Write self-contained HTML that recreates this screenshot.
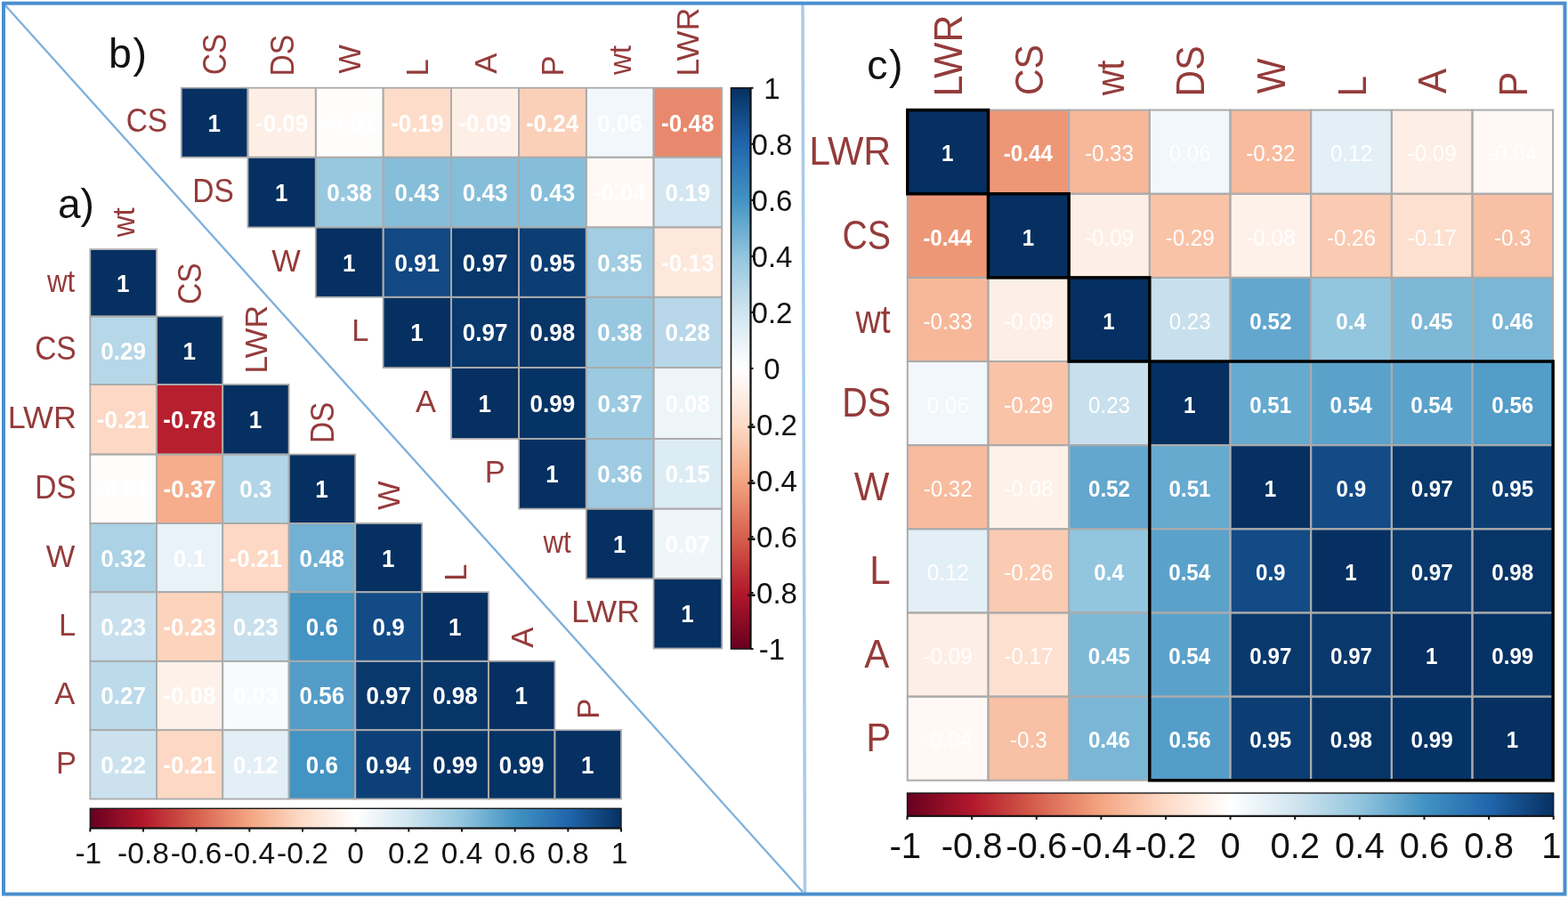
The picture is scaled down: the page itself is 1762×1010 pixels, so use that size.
<!DOCTYPE html>
<html><head><meta charset="utf-8"><title>Correlation plots</title>
<style>
html,body{margin:0;padding:0;background:#fff;}
body{width:1762px;height:1010px;overflow:hidden;}
svg{display:block;font-family:'Liberation Sans', Arial, sans-serif;}
</style></head><body>
<svg width="1762" height="1010" viewBox="0 0 1762 1010">
<defs>
<linearGradient id="gv" x1="0" y1="1" x2="0" y2="0">
<stop offset="0.00" stop-color="#67001F"/>
<stop offset="0.10" stop-color="#B2182B"/>
<stop offset="0.20" stop-color="#D6604D"/>
<stop offset="0.30" stop-color="#F4A582"/>
<stop offset="0.40" stop-color="#FDDBC7"/>
<stop offset="0.50" stop-color="#FFFFFF"/>
<stop offset="0.60" stop-color="#D1E5F0"/>
<stop offset="0.70" stop-color="#92C5DE"/>
<stop offset="0.80" stop-color="#4393C3"/>
<stop offset="0.90" stop-color="#2166AC"/>
<stop offset="1.00" stop-color="#053061"/>
</linearGradient>
<linearGradient id="gh" x1="0" y1="0" x2="1" y2="0">
<stop offset="0.00" stop-color="#67001F"/>
<stop offset="0.10" stop-color="#B2182B"/>
<stop offset="0.20" stop-color="#D6604D"/>
<stop offset="0.30" stop-color="#F4A582"/>
<stop offset="0.40" stop-color="#FDDBC7"/>
<stop offset="0.50" stop-color="#FFFFFF"/>
<stop offset="0.60" stop-color="#D1E5F0"/>
<stop offset="0.70" stop-color="#92C5DE"/>
<stop offset="0.80" stop-color="#4393C3"/>
<stop offset="0.90" stop-color="#2166AC"/>
<stop offset="1.00" stop-color="#053061"/>
</linearGradient>
</defs>
<rect x="0" y="0" width="1762" height="1010" fill="#fff"/>
<rect x="203.80" y="98.70" width="74.70" height="78.00" fill="#053061"/>
<rect x="278.50" y="98.70" width="76.30" height="78.00" fill="#feefe6"/>
<rect x="354.80" y="98.70" width="75.80" height="78.00" fill="#fffdfc"/>
<rect x="430.60" y="98.70" width="76.50" height="78.00" fill="#fdddca"/>
<rect x="507.10" y="98.70" width="76.00" height="78.00" fill="#feefe6"/>
<rect x="583.10" y="98.70" width="75.70" height="78.00" fill="#fbd0b9"/>
<rect x="658.80" y="98.70" width="75.70" height="78.00" fill="#f1f7fa"/>
<rect x="734.50" y="98.70" width="76.70" height="78.00" fill="#e8896d"/>
<rect x="278.50" y="176.70" width="76.30" height="78.70" fill="#053061"/>
<rect x="354.80" y="176.70" width="75.80" height="78.70" fill="#98c8e0"/>
<rect x="430.60" y="176.70" width="76.50" height="78.70" fill="#86beda"/>
<rect x="507.10" y="176.70" width="76.00" height="78.70" fill="#86beda"/>
<rect x="583.10" y="176.70" width="75.70" height="78.70" fill="#86beda"/>
<rect x="658.80" y="176.70" width="75.70" height="78.70" fill="#fff8f4"/>
<rect x="734.50" y="176.70" width="76.70" height="78.70" fill="#d3e6f1"/>
<rect x="354.80" y="255.40" width="75.80" height="78.40" fill="#053061"/>
<rect x="430.60" y="255.40" width="76.50" height="78.40" fill="#124883"/>
<rect x="507.10" y="255.40" width="76.00" height="78.40" fill="#09386c"/>
<rect x="583.10" y="255.40" width="75.70" height="78.40" fill="#0c3e74"/>
<rect x="658.80" y="255.40" width="75.70" height="78.40" fill="#a2cde2"/>
<rect x="734.50" y="255.40" width="76.70" height="78.40" fill="#fee8db"/>
<rect x="430.60" y="333.80" width="76.50" height="79.30" fill="#053061"/>
<rect x="507.10" y="333.80" width="76.00" height="79.30" fill="#09386c"/>
<rect x="583.10" y="333.80" width="75.70" height="79.30" fill="#083568"/>
<rect x="658.80" y="333.80" width="75.70" height="79.30" fill="#98c8e0"/>
<rect x="734.50" y="333.80" width="76.70" height="79.30" fill="#b8d8e9"/>
<rect x="507.10" y="413.10" width="76.00" height="79.80" fill="#053061"/>
<rect x="583.10" y="413.10" width="75.70" height="79.80" fill="#063365"/>
<rect x="658.80" y="413.10" width="75.70" height="79.80" fill="#9bcae1"/>
<rect x="734.50" y="413.10" width="76.70" height="79.80" fill="#edf5f9"/>
<rect x="583.10" y="492.90" width="75.70" height="78.70" fill="#053061"/>
<rect x="658.80" y="492.90" width="75.70" height="78.70" fill="#9fcbe2"/>
<rect x="734.50" y="492.90" width="76.70" height="78.70" fill="#dcecf4"/>
<rect x="658.80" y="571.60" width="75.70" height="78.50" fill="#053061"/>
<rect x="734.50" y="571.60" width="76.70" height="78.50" fill="#eff6fa"/>
<rect x="734.50" y="650.10" width="76.70" height="78.40" fill="#053061"/>
<rect x="203.80" y="98.70" width="74.70" height="78.00" fill="none" stroke="#ababab" stroke-width="1.8"/>
<rect x="278.50" y="98.70" width="76.30" height="78.00" fill="none" stroke="#ababab" stroke-width="1.8"/>
<rect x="354.80" y="98.70" width="75.80" height="78.00" fill="none" stroke="#ababab" stroke-width="1.8"/>
<rect x="430.60" y="98.70" width="76.50" height="78.00" fill="none" stroke="#ababab" stroke-width="1.8"/>
<rect x="507.10" y="98.70" width="76.00" height="78.00" fill="none" stroke="#ababab" stroke-width="1.8"/>
<rect x="583.10" y="98.70" width="75.70" height="78.00" fill="none" stroke="#ababab" stroke-width="1.8"/>
<rect x="658.80" y="98.70" width="75.70" height="78.00" fill="none" stroke="#ababab" stroke-width="1.8"/>
<rect x="734.50" y="98.70" width="76.70" height="78.00" fill="none" stroke="#ababab" stroke-width="1.8"/>
<rect x="278.50" y="176.70" width="76.30" height="78.70" fill="none" stroke="#ababab" stroke-width="1.8"/>
<rect x="354.80" y="176.70" width="75.80" height="78.70" fill="none" stroke="#ababab" stroke-width="1.8"/>
<rect x="430.60" y="176.70" width="76.50" height="78.70" fill="none" stroke="#ababab" stroke-width="1.8"/>
<rect x="507.10" y="176.70" width="76.00" height="78.70" fill="none" stroke="#ababab" stroke-width="1.8"/>
<rect x="583.10" y="176.70" width="75.70" height="78.70" fill="none" stroke="#ababab" stroke-width="1.8"/>
<rect x="658.80" y="176.70" width="75.70" height="78.70" fill="none" stroke="#ababab" stroke-width="1.8"/>
<rect x="734.50" y="176.70" width="76.70" height="78.70" fill="none" stroke="#ababab" stroke-width="1.8"/>
<rect x="354.80" y="255.40" width="75.80" height="78.40" fill="none" stroke="#ababab" stroke-width="1.8"/>
<rect x="430.60" y="255.40" width="76.50" height="78.40" fill="none" stroke="#ababab" stroke-width="1.8"/>
<rect x="507.10" y="255.40" width="76.00" height="78.40" fill="none" stroke="#ababab" stroke-width="1.8"/>
<rect x="583.10" y="255.40" width="75.70" height="78.40" fill="none" stroke="#ababab" stroke-width="1.8"/>
<rect x="658.80" y="255.40" width="75.70" height="78.40" fill="none" stroke="#ababab" stroke-width="1.8"/>
<rect x="734.50" y="255.40" width="76.70" height="78.40" fill="none" stroke="#ababab" stroke-width="1.8"/>
<rect x="430.60" y="333.80" width="76.50" height="79.30" fill="none" stroke="#ababab" stroke-width="1.8"/>
<rect x="507.10" y="333.80" width="76.00" height="79.30" fill="none" stroke="#ababab" stroke-width="1.8"/>
<rect x="583.10" y="333.80" width="75.70" height="79.30" fill="none" stroke="#ababab" stroke-width="1.8"/>
<rect x="658.80" y="333.80" width="75.70" height="79.30" fill="none" stroke="#ababab" stroke-width="1.8"/>
<rect x="734.50" y="333.80" width="76.70" height="79.30" fill="none" stroke="#ababab" stroke-width="1.8"/>
<rect x="507.10" y="413.10" width="76.00" height="79.80" fill="none" stroke="#ababab" stroke-width="1.8"/>
<rect x="583.10" y="413.10" width="75.70" height="79.80" fill="none" stroke="#ababab" stroke-width="1.8"/>
<rect x="658.80" y="413.10" width="75.70" height="79.80" fill="none" stroke="#ababab" stroke-width="1.8"/>
<rect x="734.50" y="413.10" width="76.70" height="79.80" fill="none" stroke="#ababab" stroke-width="1.8"/>
<rect x="583.10" y="492.90" width="75.70" height="78.70" fill="none" stroke="#ababab" stroke-width="1.8"/>
<rect x="658.80" y="492.90" width="75.70" height="78.70" fill="none" stroke="#ababab" stroke-width="1.8"/>
<rect x="734.50" y="492.90" width="76.70" height="78.70" fill="none" stroke="#ababab" stroke-width="1.8"/>
<rect x="658.80" y="571.60" width="75.70" height="78.50" fill="none" stroke="#ababab" stroke-width="1.8"/>
<rect x="734.50" y="571.60" width="76.70" height="78.50" fill="none" stroke="#ababab" stroke-width="1.8"/>
<rect x="734.50" y="650.10" width="76.70" height="78.40" fill="none" stroke="#ababab" stroke-width="1.8"/>
<text transform="translate(233.48,147.65) scale(1,1.08)" font-size="26" font-weight="bold" fill="#fff">1</text>
<text transform="translate(286.98,147.65) scale(1,1.08)" font-size="26" font-weight="bold" fill="#fff">-0.09</text>
<text transform="translate(362.93,147.65) scale(1,1.08)" font-size="26" font-weight="bold" fill="#fff">-0.01</text>
<text transform="translate(439.18,147.65) scale(1,1.08)" font-size="26" font-weight="bold" fill="#fff">-0.19</text>
<text transform="translate(515.43,147.65) scale(1,1.08)" font-size="26" font-weight="bold" fill="#fff">-0.09</text>
<text transform="translate(590.89,147.65) scale(1,1.08)" font-size="26" font-weight="bold" fill="#fff">-0.24</text>
<text transform="translate(671.30,147.65) scale(1,1.08)" font-size="26" font-weight="bold" fill="#fff">0.06</text>
<text transform="translate(743.11,147.65) scale(1,1.08)" font-size="26" font-weight="bold" fill="#fff">-0.48</text>
<text transform="translate(308.98,226.00) scale(1,1.08)" font-size="26" font-weight="bold" fill="#fff">1</text>
<text transform="translate(367.29,225.97) scale(1,1.08)" font-size="26" font-weight="bold" fill="#fff">0.38</text>
<text transform="translate(443.50,225.97) scale(1,1.08)" font-size="26" font-weight="bold" fill="#fff">0.43</text>
<text transform="translate(519.75,225.97) scale(1,1.08)" font-size="26" font-weight="bold" fill="#fff">0.43</text>
<text transform="translate(595.60,225.97) scale(1,1.08)" font-size="26" font-weight="bold" fill="#fff">0.43</text>
<text transform="translate(666.59,226.00) scale(1,1.08)" font-size="26" font-weight="bold" fill="#fff">-0.04</text>
<text transform="translate(747.50,226.00) scale(1,1.08)" font-size="26" font-weight="bold" fill="#fff">0.19</text>
<text transform="translate(385.03,304.55) scale(1,1.08)" font-size="26" font-weight="bold" fill="#fff">1</text>
<text transform="translate(443.40,304.55) scale(1,1.08)" font-size="26" font-weight="bold" fill="#fff">0.91</text>
<text transform="translate(519.85,304.55) scale(1,1.08)" font-size="26" font-weight="bold" fill="#fff">0.97</text>
<text transform="translate(595.50,304.55) scale(1,1.08)" font-size="26" font-weight="bold" fill="#fff">0.95</text>
<text transform="translate(671.20,304.52) scale(1,1.08)" font-size="26" font-weight="bold" fill="#fff">0.35</text>
<text transform="translate(743.18,304.52) scale(1,1.08)" font-size="26" font-weight="bold" fill="#fff">-0.13</text>
<text transform="translate(461.18,383.40) scale(1,1.08)" font-size="26" font-weight="bold" fill="#fff">1</text>
<text transform="translate(519.85,383.40) scale(1,1.08)" font-size="26" font-weight="bold" fill="#fff">0.97</text>
<text transform="translate(595.54,383.40) scale(1,1.08)" font-size="26" font-weight="bold" fill="#fff">0.98</text>
<text transform="translate(671.24,383.37) scale(1,1.08)" font-size="26" font-weight="bold" fill="#fff">0.38</text>
<text transform="translate(747.44,383.40) scale(1,1.08)" font-size="26" font-weight="bold" fill="#fff">0.28</text>
<text transform="translate(537.43,462.95) scale(1,1.08)" font-size="26" font-weight="bold" fill="#fff">1</text>
<text transform="translate(595.60,462.95) scale(1,1.08)" font-size="26" font-weight="bold" fill="#fff">0.99</text>
<text transform="translate(671.40,462.92) scale(1,1.08)" font-size="26" font-weight="bold" fill="#fff">0.37</text>
<text transform="translate(747.44,462.95) scale(1,1.08)" font-size="26" font-weight="bold" fill="#fff">0.08</text>
<text transform="translate(613.28,542.20) scale(1,1.08)" font-size="26" font-weight="bold" fill="#fff">1</text>
<text transform="translate(671.30,542.17) scale(1,1.08)" font-size="26" font-weight="bold" fill="#fff">0.36</text>
<text transform="translate(747.40,542.20) scale(1,1.08)" font-size="26" font-weight="bold" fill="#fff">0.15</text>
<text transform="translate(688.98,620.80) scale(1,1.08)" font-size="26" font-weight="bold" fill="#fff">1</text>
<text transform="translate(747.60,620.80) scale(1,1.08)" font-size="26" font-weight="bold" fill="#fff">0.07</text>
<text transform="translate(765.18,699.25) scale(1,1.08)" font-size="26" font-weight="bold" fill="#fff">1</text>
<text transform="translate(254.26,84.37) rotate(-90) scale(0.97,1.08)" font-size="34.5" fill="#953b3b">CS</text>
<text transform="translate(329.76,85.46) rotate(-90) scale(0.97,1.08)" font-size="34.5" fill="#953b3b">DS</text>
<text transform="translate(405.22,82.87) rotate(-90) scale(1.0,1.03)" font-size="34.5" fill="#953b3b">W</text>
<text transform="translate(481.37,85.55) rotate(-90) scale(1.0,1.03)" font-size="34.5" fill="#953b3b">L</text>
<text transform="translate(557.62,82.79) rotate(-90) scale(1.0,1.03)" font-size="34.5" fill="#953b3b">A</text>
<text transform="translate(633.47,85.55) rotate(-90) scale(1.0,1.03)" font-size="34.5" fill="#953b3b">P</text>
<text transform="translate(709.48,84.10) rotate(-90) scale(0.96,1.03)" font-size="34.5" fill="#953b3b">wt</text>
<text transform="translate(785.37,85.66) rotate(-90) scale(1.04,1.03)" font-size="34.5" fill="#953b3b">LWR</text>
<text transform="translate(141.67,148.21) scale(0.97,1.08)" font-size="34.5" fill="#953b3b">CS</text>
<text transform="translate(216.37,226.56) scale(0.97,1.08)" font-size="34.5" fill="#953b3b">DS</text>
<text transform="translate(305.17,304.52) scale(1.0,1.03)" font-size="34.5" fill="#953b3b">W</text>
<text transform="translate(395.37,383.37) scale(1.0,1.03)" font-size="34.5" fill="#953b3b">L</text>
<text transform="translate(466.96,462.92) scale(1.0,1.03)" font-size="34.5" fill="#953b3b">A</text>
<text transform="translate(544.68,542.17) scale(1.0,1.03)" font-size="34.5" fill="#953b3b">P</text>
<text transform="translate(610.44,621.28) scale(0.91,1.03)" font-size="34.5" fill="#953b3b">wt</text>
<text transform="translate(641.95,699.22) scale(1.04,1.03)" font-size="34.5" fill="#953b3b">LWR</text>
<rect x="821.5" y="98.8" width="22.0" height="630.2" fill="url(#gv)" stroke="#1a1a1a" stroke-width="1.6"/>
<line x1="843.5" y1="98.8" x2="843.5" y2="729.0" stroke="#111" stroke-width="2"/>
<line x1="843.5" y1="98.80" x2="846.5" y2="98.80" stroke="#111" stroke-width="2"/>
<text x="867.5" y="110.61" text-anchor="middle" font-size="33" fill="#111">1</text>
<line x1="843.5" y1="161.82" x2="846.5" y2="161.82" stroke="#111" stroke-width="2"/>
<text x="867.5" y="173.63" text-anchor="middle" font-size="33" fill="#111">0.8</text>
<line x1="843.5" y1="224.84" x2="846.5" y2="224.84" stroke="#111" stroke-width="2"/>
<text x="867.5" y="236.65" text-anchor="middle" font-size="33" fill="#111">0.6</text>
<line x1="843.5" y1="287.86" x2="846.5" y2="287.86" stroke="#111" stroke-width="2"/>
<text x="867.5" y="299.67" text-anchor="middle" font-size="33" fill="#111">0.4</text>
<line x1="843.5" y1="350.88" x2="846.5" y2="350.88" stroke="#111" stroke-width="2"/>
<text x="867.5" y="362.69" text-anchor="middle" font-size="33" fill="#111">0.2</text>
<line x1="843.5" y1="413.90" x2="846.5" y2="413.90" stroke="#111" stroke-width="2"/>
<text x="867.5" y="425.71" text-anchor="middle" font-size="33" fill="#111">0</text>
<line x1="843.5" y1="476.92" x2="846.5" y2="476.92" stroke="#111" stroke-width="2"/>
<text x="867.5" y="488.73" text-anchor="middle" font-size="33" fill="#111">-0.2</text>
<line x1="843.5" y1="539.94" x2="846.5" y2="539.94" stroke="#111" stroke-width="2"/>
<text x="867.5" y="551.75" text-anchor="middle" font-size="33" fill="#111">-0.4</text>
<line x1="843.5" y1="602.96" x2="846.5" y2="602.96" stroke="#111" stroke-width="2"/>
<text x="867.5" y="614.77" text-anchor="middle" font-size="33" fill="#111">-0.6</text>
<line x1="843.5" y1="665.98" x2="846.5" y2="665.98" stroke="#111" stroke-width="2"/>
<text x="867.5" y="677.79" text-anchor="middle" font-size="33" fill="#111">-0.8</text>
<line x1="843.5" y1="729.00" x2="846.5" y2="729.00" stroke="#111" stroke-width="2"/>
<text x="867.5" y="740.81" text-anchor="middle" font-size="33" fill="#111">-1</text>
<rect x="101.30" y="280.10" width="74.60" height="75.40" fill="#053061"/>
<rect x="101.30" y="355.50" width="74.60" height="76.50" fill="#b5d7e8"/>
<rect x="175.90" y="355.50" width="74.30" height="76.50" fill="#053061"/>
<rect x="101.30" y="432.00" width="74.60" height="78.50" fill="#fdd8c4"/>
<rect x="175.90" y="432.00" width="74.30" height="78.50" fill="#b61f2e"/>
<rect x="250.20" y="432.00" width="74.40" height="78.50" fill="#053061"/>
<rect x="101.30" y="510.50" width="74.60" height="77.50" fill="#fffdfc"/>
<rect x="175.90" y="510.50" width="74.30" height="77.50" fill="#f5ad8c"/>
<rect x="250.20" y="510.50" width="74.40" height="77.50" fill="#b2d5e7"/>
<rect x="324.60" y="510.50" width="74.60" height="77.50" fill="#053061"/>
<rect x="101.30" y="588.00" width="74.60" height="77.20" fill="#abd2e5"/>
<rect x="175.90" y="588.00" width="74.30" height="77.20" fill="#e8f2f8"/>
<rect x="250.20" y="588.00" width="74.40" height="77.20" fill="#fdd8c4"/>
<rect x="324.60" y="588.00" width="74.60" height="77.20" fill="#72b1d3"/>
<rect x="399.20" y="588.00" width="75.00" height="77.20" fill="#053061"/>
<rect x="101.30" y="665.20" width="74.60" height="77.60" fill="#c8e0ed"/>
<rect x="175.90" y="665.20" width="74.30" height="77.60" fill="#fcd3bd"/>
<rect x="250.20" y="665.20" width="74.40" height="77.60" fill="#c8e0ed"/>
<rect x="324.60" y="665.20" width="74.60" height="77.60" fill="#4393c3"/>
<rect x="399.20" y="665.20" width="75.00" height="77.60" fill="#134b86"/>
<rect x="474.20" y="665.20" width="74.70" height="77.60" fill="#053061"/>
<rect x="101.30" y="742.80" width="74.60" height="77.40" fill="#bbdaea"/>
<rect x="175.90" y="742.80" width="74.30" height="77.40" fill="#fef1e9"/>
<rect x="250.20" y="742.80" width="74.40" height="77.40" fill="#f8fbfd"/>
<rect x="324.60" y="742.80" width="74.60" height="77.40" fill="#539dc8"/>
<rect x="399.20" y="742.80" width="75.00" height="77.40" fill="#09386c"/>
<rect x="474.20" y="742.80" width="74.70" height="77.40" fill="#083568"/>
<rect x="548.90" y="742.80" width="74.50" height="77.40" fill="#053061"/>
<rect x="101.30" y="820.20" width="74.60" height="77.40" fill="#cbe2ee"/>
<rect x="175.90" y="820.20" width="74.30" height="77.40" fill="#fdd8c4"/>
<rect x="250.20" y="820.20" width="74.40" height="77.40" fill="#e3eff6"/>
<rect x="324.60" y="820.20" width="74.60" height="77.40" fill="#4393c3"/>
<rect x="399.20" y="820.20" width="75.00" height="77.40" fill="#0d4078"/>
<rect x="474.20" y="820.20" width="74.70" height="77.40" fill="#063365"/>
<rect x="548.90" y="820.20" width="74.50" height="77.40" fill="#063365"/>
<rect x="623.40" y="820.20" width="74.60" height="77.40" fill="#053061"/>
<rect x="101.30" y="280.10" width="74.60" height="75.40" fill="none" stroke="#ababab" stroke-width="1.8"/>
<rect x="101.30" y="355.50" width="74.60" height="76.50" fill="none" stroke="#ababab" stroke-width="1.8"/>
<rect x="175.90" y="355.50" width="74.30" height="76.50" fill="none" stroke="#ababab" stroke-width="1.8"/>
<rect x="101.30" y="432.00" width="74.60" height="78.50" fill="none" stroke="#ababab" stroke-width="1.8"/>
<rect x="175.90" y="432.00" width="74.30" height="78.50" fill="none" stroke="#ababab" stroke-width="1.8"/>
<rect x="250.20" y="432.00" width="74.40" height="78.50" fill="none" stroke="#ababab" stroke-width="1.8"/>
<rect x="101.30" y="510.50" width="74.60" height="77.50" fill="none" stroke="#ababab" stroke-width="1.8"/>
<rect x="175.90" y="510.50" width="74.30" height="77.50" fill="none" stroke="#ababab" stroke-width="1.8"/>
<rect x="250.20" y="510.50" width="74.40" height="77.50" fill="none" stroke="#ababab" stroke-width="1.8"/>
<rect x="324.60" y="510.50" width="74.60" height="77.50" fill="none" stroke="#ababab" stroke-width="1.8"/>
<rect x="101.30" y="588.00" width="74.60" height="77.20" fill="none" stroke="#ababab" stroke-width="1.8"/>
<rect x="175.90" y="588.00" width="74.30" height="77.20" fill="none" stroke="#ababab" stroke-width="1.8"/>
<rect x="250.20" y="588.00" width="74.40" height="77.20" fill="none" stroke="#ababab" stroke-width="1.8"/>
<rect x="324.60" y="588.00" width="74.60" height="77.20" fill="none" stroke="#ababab" stroke-width="1.8"/>
<rect x="399.20" y="588.00" width="75.00" height="77.20" fill="none" stroke="#ababab" stroke-width="1.8"/>
<rect x="101.30" y="665.20" width="74.60" height="77.60" fill="none" stroke="#ababab" stroke-width="1.8"/>
<rect x="175.90" y="665.20" width="74.30" height="77.60" fill="none" stroke="#ababab" stroke-width="1.8"/>
<rect x="250.20" y="665.20" width="74.40" height="77.60" fill="none" stroke="#ababab" stroke-width="1.8"/>
<rect x="324.60" y="665.20" width="74.60" height="77.60" fill="none" stroke="#ababab" stroke-width="1.8"/>
<rect x="399.20" y="665.20" width="75.00" height="77.60" fill="none" stroke="#ababab" stroke-width="1.8"/>
<rect x="474.20" y="665.20" width="74.70" height="77.60" fill="none" stroke="#ababab" stroke-width="1.8"/>
<rect x="101.30" y="742.80" width="74.60" height="77.40" fill="none" stroke="#ababab" stroke-width="1.8"/>
<rect x="175.90" y="742.80" width="74.30" height="77.40" fill="none" stroke="#ababab" stroke-width="1.8"/>
<rect x="250.20" y="742.80" width="74.40" height="77.40" fill="none" stroke="#ababab" stroke-width="1.8"/>
<rect x="324.60" y="742.80" width="74.60" height="77.40" fill="none" stroke="#ababab" stroke-width="1.8"/>
<rect x="399.20" y="742.80" width="75.00" height="77.40" fill="none" stroke="#ababab" stroke-width="1.8"/>
<rect x="474.20" y="742.80" width="74.70" height="77.40" fill="none" stroke="#ababab" stroke-width="1.8"/>
<rect x="548.90" y="742.80" width="74.50" height="77.40" fill="none" stroke="#ababab" stroke-width="1.8"/>
<rect x="101.30" y="820.20" width="74.60" height="77.40" fill="none" stroke="#ababab" stroke-width="1.8"/>
<rect x="175.90" y="820.20" width="74.30" height="77.40" fill="none" stroke="#ababab" stroke-width="1.8"/>
<rect x="250.20" y="820.20" width="74.40" height="77.40" fill="none" stroke="#ababab" stroke-width="1.8"/>
<rect x="324.60" y="820.20" width="74.60" height="77.40" fill="none" stroke="#ababab" stroke-width="1.8"/>
<rect x="399.20" y="820.20" width="75.00" height="77.40" fill="none" stroke="#ababab" stroke-width="1.8"/>
<rect x="474.20" y="820.20" width="74.70" height="77.40" fill="none" stroke="#ababab" stroke-width="1.8"/>
<rect x="548.90" y="820.20" width="74.50" height="77.40" fill="none" stroke="#ababab" stroke-width="1.8"/>
<rect x="623.40" y="820.20" width="74.60" height="77.40" fill="none" stroke="#ababab" stroke-width="1.8"/>
<text transform="translate(130.93,327.75) scale(1,1.08)" font-size="26" font-weight="bold" fill="#fff">1</text>
<text transform="translate(113.25,403.70) scale(1,1.08)" font-size="26" font-weight="bold" fill="#fff">0.29</text>
<text transform="translate(205.38,403.70) scale(1,1.08)" font-size="26" font-weight="bold" fill="#fff">1</text>
<text transform="translate(108.83,481.20) scale(1,1.08)" font-size="26" font-weight="bold" fill="#fff">-0.21</text>
<text transform="translate(183.31,481.20) scale(1,1.08)" font-size="26" font-weight="bold" fill="#fff">-0.78</text>
<text transform="translate(279.73,481.20) scale(1,1.08)" font-size="26" font-weight="bold" fill="#fff">1</text>
<text transform="translate(108.83,559.20) scale(1,1.08)" font-size="26" font-weight="bold" fill="#fff">-0.01</text>
<text transform="translate(183.48,559.17) scale(1,1.08)" font-size="26" font-weight="bold" fill="#fff">-0.37</text>
<text transform="translate(269.26,559.17) scale(1,1.08)" font-size="26" font-weight="bold" fill="#fff">0.3</text>
<text transform="translate(354.23,559.20) scale(1,1.08)" font-size="26" font-weight="bold" fill="#fff">1</text>
<text transform="translate(113.31,636.52) scale(1,1.08)" font-size="26" font-weight="bold" fill="#fff">0.32</text>
<text transform="translate(194.82,636.55) scale(1,1.08)" font-size="26" font-weight="bold" fill="#fff">0.1</text>
<text transform="translate(257.63,636.55) scale(1,1.08)" font-size="26" font-weight="bold" fill="#fff">-0.21</text>
<text transform="translate(336.48,636.55) scale(1,1.08)" font-size="26" font-weight="bold" fill="#fff">0.48</text>
<text transform="translate(429.03,636.55) scale(1,1.08)" font-size="26" font-weight="bold" fill="#fff">1</text>
<text transform="translate(113.25,713.92) scale(1,1.08)" font-size="26" font-weight="bold" fill="#fff">0.23</text>
<text transform="translate(183.38,713.92) scale(1,1.08)" font-size="26" font-weight="bold" fill="#fff">-0.23</text>
<text transform="translate(262.05,713.92) scale(1,1.08)" font-size="26" font-weight="bold" fill="#fff">0.23</text>
<text transform="translate(343.76,713.95) scale(1,1.08)" font-size="26" font-weight="bold" fill="#fff">0.6</text>
<text transform="translate(418.56,713.95) scale(1,1.08)" font-size="26" font-weight="bold" fill="#fff">0.9</text>
<text transform="translate(503.88,713.95) scale(1,1.08)" font-size="26" font-weight="bold" fill="#fff">1</text>
<text transform="translate(113.35,791.45) scale(1,1.08)" font-size="26" font-weight="bold" fill="#fff">0.27</text>
<text transform="translate(183.31,791.45) scale(1,1.08)" font-size="26" font-weight="bold" fill="#fff">-0.08</text>
<text transform="translate(262.05,791.42) scale(1,1.08)" font-size="26" font-weight="bold" fill="#fff">0.03</text>
<text transform="translate(336.55,791.45) scale(1,1.08)" font-size="26" font-weight="bold" fill="#fff">0.56</text>
<text transform="translate(411.45,791.45) scale(1,1.08)" font-size="26" font-weight="bold" fill="#fff">0.97</text>
<text transform="translate(486.13,791.45) scale(1,1.08)" font-size="26" font-weight="bold" fill="#fff">0.98</text>
<text transform="translate(578.48,791.45) scale(1,1.08)" font-size="26" font-weight="bold" fill="#fff">1</text>
<text transform="translate(113.31,868.85) scale(1,1.08)" font-size="26" font-weight="bold" fill="#fff">0.22</text>
<text transform="translate(183.28,868.85) scale(1,1.08)" font-size="26" font-weight="bold" fill="#fff">-0.21</text>
<text transform="translate(262.11,868.85) scale(1,1.08)" font-size="26" font-weight="bold" fill="#fff">0.12</text>
<text transform="translate(343.76,868.85) scale(1,1.08)" font-size="26" font-weight="bold" fill="#fff">0.6</text>
<text transform="translate(410.96,868.85) scale(1,1.08)" font-size="26" font-weight="bold" fill="#fff">0.94</text>
<text transform="translate(486.20,868.85) scale(1,1.08)" font-size="26" font-weight="bold" fill="#fff">0.99</text>
<text transform="translate(560.80,868.85) scale(1,1.08)" font-size="26" font-weight="bold" fill="#fff">0.99</text>
<text transform="translate(653.03,868.85) scale(1,1.08)" font-size="26" font-weight="bold" fill="#fff">1</text>
<text transform="translate(151.43,266.30) rotate(-90) scale(0.96,1.03)" font-size="34.5" fill="#953b3b">wt</text>
<text transform="translate(226.16,341.97) rotate(-90) scale(0.97,1.08)" font-size="34.5" fill="#953b3b">CS</text>
<text transform="translate(299.92,419.76) rotate(-90) scale(1.04,1.03)" font-size="34.5" fill="#953b3b">LWR</text>
<text transform="translate(375.01,498.06) rotate(-90) scale(0.97,1.08)" font-size="34.5" fill="#953b3b">DS</text>
<text transform="translate(449.22,572.97) rotate(-90) scale(1.0,1.03)" font-size="34.5" fill="#953b3b">W</text>
<text transform="translate(524.07,652.85) rotate(-90) scale(1.0,1.03)" font-size="34.5" fill="#953b3b">L</text>
<text transform="translate(598.67,727.69) rotate(-90) scale(1.0,1.03)" font-size="34.5" fill="#953b3b">A</text>
<text transform="translate(673.22,807.85) rotate(-90) scale(1.0,1.03)" font-size="34.5" fill="#953b3b">P</text>
<text transform="translate(52.94,328.23) scale(0.91,1.03)" font-size="34.5" fill="#953b3b">wt</text>
<text transform="translate(39.17,404.26) scale(0.97,1.08)" font-size="34.5" fill="#953b3b">CS</text>
<text transform="translate(8.75,481.17) scale(1.04,1.03)" font-size="34.5" fill="#953b3b">LWR</text>
<text transform="translate(39.17,559.76) scale(0.97,1.08)" font-size="34.5" fill="#953b3b">DS</text>
<text transform="translate(51.67,636.52) scale(1.0,1.03)" font-size="34.5" fill="#953b3b">W</text>
<text transform="translate(66.07,713.92) scale(1.0,1.03)" font-size="34.5" fill="#953b3b">L</text>
<text transform="translate(61.16,791.42) scale(1.0,1.03)" font-size="34.5" fill="#953b3b">A</text>
<text transform="translate(62.88,868.82) scale(1.0,1.03)" font-size="34.5" fill="#953b3b">P</text>
<rect x="101.3" y="908.3" width="596.7" height="22.2" fill="url(#gh)" stroke="#1a1a1a" stroke-width="1.4"/>
<line x1="101.3" y1="930.5" x2="698.0" y2="930.5" stroke="#111" stroke-width="2"/>
<line x1="101.30" y1="930.5" x2="101.30" y2="934.5" stroke="#111" stroke-width="2"/>
<text x="99.30" y="969.52" text-anchor="middle" font-size="33.5" fill="#111">-1</text>
<line x1="160.97" y1="930.5" x2="160.97" y2="934.5" stroke="#111" stroke-width="2"/>
<text x="160.97" y="969.52" text-anchor="middle" font-size="33.5" fill="#111">-0.8</text>
<line x1="220.64" y1="930.5" x2="220.64" y2="934.5" stroke="#111" stroke-width="2"/>
<text x="220.64" y="969.52" text-anchor="middle" font-size="33.5" fill="#111">-0.6</text>
<line x1="280.31" y1="930.5" x2="280.31" y2="934.5" stroke="#111" stroke-width="2"/>
<text x="280.31" y="969.52" text-anchor="middle" font-size="33.5" fill="#111">-0.4</text>
<line x1="339.98" y1="930.5" x2="339.98" y2="934.5" stroke="#111" stroke-width="2"/>
<text x="339.98" y="969.52" text-anchor="middle" font-size="33.5" fill="#111">-0.2</text>
<line x1="399.65" y1="930.5" x2="399.65" y2="934.5" stroke="#111" stroke-width="2"/>
<text x="399.65" y="969.52" text-anchor="middle" font-size="33.5" fill="#111">0</text>
<line x1="459.32" y1="930.5" x2="459.32" y2="934.5" stroke="#111" stroke-width="2"/>
<text x="459.32" y="969.52" text-anchor="middle" font-size="33.5" fill="#111">0.2</text>
<line x1="518.99" y1="930.5" x2="518.99" y2="934.5" stroke="#111" stroke-width="2"/>
<text x="518.99" y="969.52" text-anchor="middle" font-size="33.5" fill="#111">0.4</text>
<line x1="578.66" y1="930.5" x2="578.66" y2="934.5" stroke="#111" stroke-width="2"/>
<text x="578.66" y="969.52" text-anchor="middle" font-size="33.5" fill="#111">0.6</text>
<line x1="638.33" y1="930.5" x2="638.33" y2="934.5" stroke="#111" stroke-width="2"/>
<text x="638.33" y="969.52" text-anchor="middle" font-size="33.5" fill="#111">0.8</text>
<line x1="698.00" y1="930.5" x2="698.00" y2="934.5" stroke="#111" stroke-width="2"/>
<text x="696.00" y="969.52" text-anchor="middle" font-size="33.5" fill="#111">1</text>
<rect x="1019.80" y="123.60" width="90.67" height="94.14" fill="#053061"/>
<rect x="1110.47" y="123.60" width="90.67" height="94.14" fill="#ee9777"/>
<rect x="1201.14" y="123.60" width="90.67" height="94.14" fill="#f7b89a"/>
<rect x="1291.81" y="123.60" width="90.67" height="94.14" fill="#f1f7fa"/>
<rect x="1382.48" y="123.60" width="90.67" height="94.14" fill="#f8bb9e"/>
<rect x="1473.15" y="123.60" width="90.67" height="94.14" fill="#e3eff6"/>
<rect x="1563.82" y="123.60" width="90.67" height="94.14" fill="#feefe6"/>
<rect x="1654.49" y="123.60" width="90.67" height="94.14" fill="#fff8f4"/>
<rect x="1019.80" y="217.74" width="90.67" height="94.14" fill="#ee9777"/>
<rect x="1110.47" y="217.74" width="90.67" height="94.14" fill="#053061"/>
<rect x="1201.14" y="217.74" width="90.67" height="94.14" fill="#feefe6"/>
<rect x="1291.81" y="217.74" width="90.67" height="94.14" fill="#f9c3a8"/>
<rect x="1382.48" y="217.74" width="90.67" height="94.14" fill="#fef1e9"/>
<rect x="1473.15" y="217.74" width="90.67" height="94.14" fill="#facbb2"/>
<rect x="1563.82" y="217.74" width="90.67" height="94.14" fill="#fde0cf"/>
<rect x="1654.49" y="217.74" width="90.67" height="94.14" fill="#f8c0a4"/>
<rect x="1019.80" y="311.88" width="90.67" height="94.14" fill="#f7b89a"/>
<rect x="1110.47" y="311.88" width="90.67" height="94.14" fill="#feefe6"/>
<rect x="1201.14" y="311.88" width="90.67" height="94.14" fill="#053061"/>
<rect x="1291.81" y="311.88" width="90.67" height="94.14" fill="#c8e0ed"/>
<rect x="1382.48" y="311.88" width="90.67" height="94.14" fill="#63a7ce"/>
<rect x="1473.15" y="311.88" width="90.67" height="94.14" fill="#92c5de"/>
<rect x="1563.82" y="311.88" width="90.67" height="94.14" fill="#7eb8d7"/>
<rect x="1654.49" y="311.88" width="90.67" height="94.14" fill="#7ab6d6"/>
<rect x="1019.80" y="406.02" width="90.67" height="94.14" fill="#f1f7fa"/>
<rect x="1110.47" y="406.02" width="90.67" height="94.14" fill="#f9c3a8"/>
<rect x="1201.14" y="406.02" width="90.67" height="94.14" fill="#c8e0ed"/>
<rect x="1291.81" y="406.02" width="90.67" height="94.14" fill="#053061"/>
<rect x="1382.48" y="406.02" width="90.67" height="94.14" fill="#67aacf"/>
<rect x="1473.15" y="406.02" width="90.67" height="94.14" fill="#5ba2cb"/>
<rect x="1563.82" y="406.02" width="90.67" height="94.14" fill="#5ba2cb"/>
<rect x="1654.49" y="406.02" width="90.67" height="94.14" fill="#539dc8"/>
<rect x="1019.80" y="500.16" width="90.67" height="94.14" fill="#f8bb9e"/>
<rect x="1110.47" y="500.16" width="90.67" height="94.14" fill="#fef1e9"/>
<rect x="1201.14" y="500.16" width="90.67" height="94.14" fill="#63a7ce"/>
<rect x="1291.81" y="500.16" width="90.67" height="94.14" fill="#67aacf"/>
<rect x="1382.48" y="500.16" width="90.67" height="94.14" fill="#053061"/>
<rect x="1473.15" y="500.16" width="90.67" height="94.14" fill="#134b86"/>
<rect x="1563.82" y="500.16" width="90.67" height="94.14" fill="#09386c"/>
<rect x="1654.49" y="500.16" width="90.67" height="94.14" fill="#0c3e74"/>
<rect x="1019.80" y="594.30" width="90.67" height="94.14" fill="#e3eff6"/>
<rect x="1110.47" y="594.30" width="90.67" height="94.14" fill="#facbb2"/>
<rect x="1201.14" y="594.30" width="90.67" height="94.14" fill="#92c5de"/>
<rect x="1291.81" y="594.30" width="90.67" height="94.14" fill="#5ba2cb"/>
<rect x="1382.48" y="594.30" width="90.67" height="94.14" fill="#134b86"/>
<rect x="1473.15" y="594.30" width="90.67" height="94.14" fill="#053061"/>
<rect x="1563.82" y="594.30" width="90.67" height="94.14" fill="#09386c"/>
<rect x="1654.49" y="594.30" width="90.67" height="94.14" fill="#083568"/>
<rect x="1019.80" y="688.44" width="90.67" height="94.14" fill="#feefe6"/>
<rect x="1110.47" y="688.44" width="90.67" height="94.14" fill="#fde0cf"/>
<rect x="1201.14" y="688.44" width="90.67" height="94.14" fill="#7eb8d7"/>
<rect x="1291.81" y="688.44" width="90.67" height="94.14" fill="#5ba2cb"/>
<rect x="1382.48" y="688.44" width="90.67" height="94.14" fill="#09386c"/>
<rect x="1473.15" y="688.44" width="90.67" height="94.14" fill="#09386c"/>
<rect x="1563.82" y="688.44" width="90.67" height="94.14" fill="#053061"/>
<rect x="1654.49" y="688.44" width="90.67" height="94.14" fill="#063365"/>
<rect x="1019.80" y="782.58" width="90.67" height="94.14" fill="#fff8f4"/>
<rect x="1110.47" y="782.58" width="90.67" height="94.14" fill="#f8c0a4"/>
<rect x="1201.14" y="782.58" width="90.67" height="94.14" fill="#7ab6d6"/>
<rect x="1291.81" y="782.58" width="90.67" height="94.14" fill="#539dc8"/>
<rect x="1382.48" y="782.58" width="90.67" height="94.14" fill="#0c3e74"/>
<rect x="1473.15" y="782.58" width="90.67" height="94.14" fill="#083568"/>
<rect x="1563.82" y="782.58" width="90.67" height="94.14" fill="#063365"/>
<rect x="1654.49" y="782.58" width="90.67" height="94.14" fill="#053061"/>
<rect x="1019.80" y="123.60" width="90.67" height="94.14" fill="none" stroke="#ababab" stroke-width="2.0"/>
<rect x="1110.47" y="123.60" width="90.67" height="94.14" fill="none" stroke="#ababab" stroke-width="2.0"/>
<rect x="1201.14" y="123.60" width="90.67" height="94.14" fill="none" stroke="#ababab" stroke-width="2.0"/>
<rect x="1291.81" y="123.60" width="90.67" height="94.14" fill="none" stroke="#ababab" stroke-width="2.0"/>
<rect x="1382.48" y="123.60" width="90.67" height="94.14" fill="none" stroke="#ababab" stroke-width="2.0"/>
<rect x="1473.15" y="123.60" width="90.67" height="94.14" fill="none" stroke="#ababab" stroke-width="2.0"/>
<rect x="1563.82" y="123.60" width="90.67" height="94.14" fill="none" stroke="#ababab" stroke-width="2.0"/>
<rect x="1654.49" y="123.60" width="90.67" height="94.14" fill="none" stroke="#ababab" stroke-width="2.0"/>
<rect x="1019.80" y="217.74" width="90.67" height="94.14" fill="none" stroke="#ababab" stroke-width="2.0"/>
<rect x="1110.47" y="217.74" width="90.67" height="94.14" fill="none" stroke="#ababab" stroke-width="2.0"/>
<rect x="1201.14" y="217.74" width="90.67" height="94.14" fill="none" stroke="#ababab" stroke-width="2.0"/>
<rect x="1291.81" y="217.74" width="90.67" height="94.14" fill="none" stroke="#ababab" stroke-width="2.0"/>
<rect x="1382.48" y="217.74" width="90.67" height="94.14" fill="none" stroke="#ababab" stroke-width="2.0"/>
<rect x="1473.15" y="217.74" width="90.67" height="94.14" fill="none" stroke="#ababab" stroke-width="2.0"/>
<rect x="1563.82" y="217.74" width="90.67" height="94.14" fill="none" stroke="#ababab" stroke-width="2.0"/>
<rect x="1654.49" y="217.74" width="90.67" height="94.14" fill="none" stroke="#ababab" stroke-width="2.0"/>
<rect x="1019.80" y="311.88" width="90.67" height="94.14" fill="none" stroke="#ababab" stroke-width="2.0"/>
<rect x="1110.47" y="311.88" width="90.67" height="94.14" fill="none" stroke="#ababab" stroke-width="2.0"/>
<rect x="1201.14" y="311.88" width="90.67" height="94.14" fill="none" stroke="#ababab" stroke-width="2.0"/>
<rect x="1291.81" y="311.88" width="90.67" height="94.14" fill="none" stroke="#ababab" stroke-width="2.0"/>
<rect x="1382.48" y="311.88" width="90.67" height="94.14" fill="none" stroke="#ababab" stroke-width="2.0"/>
<rect x="1473.15" y="311.88" width="90.67" height="94.14" fill="none" stroke="#ababab" stroke-width="2.0"/>
<rect x="1563.82" y="311.88" width="90.67" height="94.14" fill="none" stroke="#ababab" stroke-width="2.0"/>
<rect x="1654.49" y="311.88" width="90.67" height="94.14" fill="none" stroke="#ababab" stroke-width="2.0"/>
<rect x="1019.80" y="406.02" width="90.67" height="94.14" fill="none" stroke="#ababab" stroke-width="2.0"/>
<rect x="1110.47" y="406.02" width="90.67" height="94.14" fill="none" stroke="#ababab" stroke-width="2.0"/>
<rect x="1201.14" y="406.02" width="90.67" height="94.14" fill="none" stroke="#ababab" stroke-width="2.0"/>
<rect x="1291.81" y="406.02" width="90.67" height="94.14" fill="none" stroke="#ababab" stroke-width="2.0"/>
<rect x="1382.48" y="406.02" width="90.67" height="94.14" fill="none" stroke="#ababab" stroke-width="2.0"/>
<rect x="1473.15" y="406.02" width="90.67" height="94.14" fill="none" stroke="#ababab" stroke-width="2.0"/>
<rect x="1563.82" y="406.02" width="90.67" height="94.14" fill="none" stroke="#ababab" stroke-width="2.0"/>
<rect x="1654.49" y="406.02" width="90.67" height="94.14" fill="none" stroke="#ababab" stroke-width="2.0"/>
<rect x="1019.80" y="500.16" width="90.67" height="94.14" fill="none" stroke="#ababab" stroke-width="2.0"/>
<rect x="1110.47" y="500.16" width="90.67" height="94.14" fill="none" stroke="#ababab" stroke-width="2.0"/>
<rect x="1201.14" y="500.16" width="90.67" height="94.14" fill="none" stroke="#ababab" stroke-width="2.0"/>
<rect x="1291.81" y="500.16" width="90.67" height="94.14" fill="none" stroke="#ababab" stroke-width="2.0"/>
<rect x="1382.48" y="500.16" width="90.67" height="94.14" fill="none" stroke="#ababab" stroke-width="2.0"/>
<rect x="1473.15" y="500.16" width="90.67" height="94.14" fill="none" stroke="#ababab" stroke-width="2.0"/>
<rect x="1563.82" y="500.16" width="90.67" height="94.14" fill="none" stroke="#ababab" stroke-width="2.0"/>
<rect x="1654.49" y="500.16" width="90.67" height="94.14" fill="none" stroke="#ababab" stroke-width="2.0"/>
<rect x="1019.80" y="594.30" width="90.67" height="94.14" fill="none" stroke="#ababab" stroke-width="2.0"/>
<rect x="1110.47" y="594.30" width="90.67" height="94.14" fill="none" stroke="#ababab" stroke-width="2.0"/>
<rect x="1201.14" y="594.30" width="90.67" height="94.14" fill="none" stroke="#ababab" stroke-width="2.0"/>
<rect x="1291.81" y="594.30" width="90.67" height="94.14" fill="none" stroke="#ababab" stroke-width="2.0"/>
<rect x="1382.48" y="594.30" width="90.67" height="94.14" fill="none" stroke="#ababab" stroke-width="2.0"/>
<rect x="1473.15" y="594.30" width="90.67" height="94.14" fill="none" stroke="#ababab" stroke-width="2.0"/>
<rect x="1563.82" y="594.30" width="90.67" height="94.14" fill="none" stroke="#ababab" stroke-width="2.0"/>
<rect x="1654.49" y="594.30" width="90.67" height="94.14" fill="none" stroke="#ababab" stroke-width="2.0"/>
<rect x="1019.80" y="688.44" width="90.67" height="94.14" fill="none" stroke="#ababab" stroke-width="2.0"/>
<rect x="1110.47" y="688.44" width="90.67" height="94.14" fill="none" stroke="#ababab" stroke-width="2.0"/>
<rect x="1201.14" y="688.44" width="90.67" height="94.14" fill="none" stroke="#ababab" stroke-width="2.0"/>
<rect x="1291.81" y="688.44" width="90.67" height="94.14" fill="none" stroke="#ababab" stroke-width="2.0"/>
<rect x="1382.48" y="688.44" width="90.67" height="94.14" fill="none" stroke="#ababab" stroke-width="2.0"/>
<rect x="1473.15" y="688.44" width="90.67" height="94.14" fill="none" stroke="#ababab" stroke-width="2.0"/>
<rect x="1563.82" y="688.44" width="90.67" height="94.14" fill="none" stroke="#ababab" stroke-width="2.0"/>
<rect x="1654.49" y="688.44" width="90.67" height="94.14" fill="none" stroke="#ababab" stroke-width="2.0"/>
<rect x="1019.80" y="782.58" width="90.67" height="94.14" fill="none" stroke="#ababab" stroke-width="2.0"/>
<rect x="1110.47" y="782.58" width="90.67" height="94.14" fill="none" stroke="#ababab" stroke-width="2.0"/>
<rect x="1201.14" y="782.58" width="90.67" height="94.14" fill="none" stroke="#ababab" stroke-width="2.0"/>
<rect x="1291.81" y="782.58" width="90.67" height="94.14" fill="none" stroke="#ababab" stroke-width="2.0"/>
<rect x="1382.48" y="782.58" width="90.67" height="94.14" fill="none" stroke="#ababab" stroke-width="2.0"/>
<rect x="1473.15" y="782.58" width="90.67" height="94.14" fill="none" stroke="#ababab" stroke-width="2.0"/>
<rect x="1563.82" y="782.58" width="90.67" height="94.14" fill="none" stroke="#ababab" stroke-width="2.0"/>
<rect x="1654.49" y="782.58" width="90.67" height="94.14" fill="none" stroke="#ababab" stroke-width="2.0"/>
<text transform="translate(1058.00,181.49) scale(1,1.06)" font-size="24.2" font-weight="bold" fill="#fff">1</text>
<text transform="translate(1127.82,181.49) scale(1,1.06)" font-size="24.2" font-weight="bold" fill="#fff">-0.44</text>
<text transform="translate(1218.89,181.49) scale(1,1.06)" font-size="24.2" font-weight="normal" fill="#fff">-0.33</text>
<text transform="translate(1313.64,181.49) scale(1,1.06)" font-size="24.2" font-weight="normal" fill="#fff">0.06</text>
<text transform="translate(1400.32,181.49) scale(1,1.06)" font-size="24.2" font-weight="normal" fill="#fff">-0.32</text>
<text transform="translate(1495.07,181.49) scale(1,1.06)" font-size="24.2" font-weight="normal" fill="#fff">0.12</text>
<text transform="translate(1581.60,181.49) scale(1,1.06)" font-size="24.2" font-weight="normal" fill="#fff">-0.09</text>
<text transform="translate(1672.06,181.49) scale(1,1.06)" font-size="24.2" font-weight="normal" fill="#fff">-0.04</text>
<text transform="translate(1037.15,275.63) scale(1,1.06)" font-size="24.2" font-weight="bold" fill="#fff">-0.44</text>
<text transform="translate(1148.67,275.63) scale(1,1.06)" font-size="24.2" font-weight="bold" fill="#fff">1</text>
<text transform="translate(1218.92,275.63) scale(1,1.06)" font-size="24.2" font-weight="normal" fill="#fff">-0.09</text>
<text transform="translate(1309.59,275.63) scale(1,1.06)" font-size="24.2" font-weight="normal" fill="#fff">-0.29</text>
<text transform="translate(1400.23,275.63) scale(1,1.06)" font-size="24.2" font-weight="normal" fill="#fff">-0.08</text>
<text transform="translate(1490.90,275.63) scale(1,1.06)" font-size="24.2" font-weight="normal" fill="#fff">-0.26</text>
<text transform="translate(1581.66,275.63) scale(1,1.06)" font-size="24.2" font-weight="normal" fill="#fff">-0.17</text>
<text transform="translate(1678.95,275.63) scale(1,1.06)" font-size="24.2" font-weight="normal" fill="#fff">-0.3</text>
<text transform="translate(1037.55,369.77) scale(1,1.06)" font-size="24.2" font-weight="normal" fill="#fff">-0.33</text>
<text transform="translate(1128.25,369.77) scale(1,1.06)" font-size="24.2" font-weight="normal" fill="#fff">-0.09</text>
<text transform="translate(1239.34,369.77) scale(1,1.06)" font-size="24.2" font-weight="bold" fill="#fff">1</text>
<text transform="translate(1313.64,369.77) scale(1,1.06)" font-size="24.2" font-weight="normal" fill="#fff">0.23</text>
<text transform="translate(1404.28,369.77) scale(1,1.06)" font-size="24.2" font-weight="bold" fill="#fff">0.52</text>
<text transform="translate(1501.24,369.77) scale(1,1.06)" font-size="24.2" font-weight="bold" fill="#fff">0.4</text>
<text transform="translate(1585.47,369.77) scale(1,1.06)" font-size="24.2" font-weight="bold" fill="#fff">0.45</text>
<text transform="translate(1676.23,369.77) scale(1,1.06)" font-size="24.2" font-weight="bold" fill="#fff">0.46</text>
<text transform="translate(1041.63,463.91) scale(1,1.06)" font-size="24.2" font-weight="normal" fill="#fff">0.06</text>
<text transform="translate(1128.25,463.91) scale(1,1.06)" font-size="24.2" font-weight="normal" fill="#fff">-0.29</text>
<text transform="translate(1222.97,463.91) scale(1,1.06)" font-size="24.2" font-weight="normal" fill="#fff">0.23</text>
<text transform="translate(1330.01,463.91) scale(1,1.06)" font-size="24.2" font-weight="bold" fill="#fff">1</text>
<text transform="translate(1404.13,463.91) scale(1,1.06)" font-size="24.2" font-weight="bold" fill="#fff">0.51</text>
<text transform="translate(1494.53,463.91) scale(1,1.06)" font-size="24.2" font-weight="bold" fill="#fff">0.54</text>
<text transform="translate(1585.20,463.91) scale(1,1.06)" font-size="24.2" font-weight="bold" fill="#fff">0.54</text>
<text transform="translate(1676.23,463.91) scale(1,1.06)" font-size="24.2" font-weight="bold" fill="#fff">0.56</text>
<text transform="translate(1037.64,558.05) scale(1,1.06)" font-size="24.2" font-weight="normal" fill="#fff">-0.32</text>
<text transform="translate(1128.22,558.05) scale(1,1.06)" font-size="24.2" font-weight="normal" fill="#fff">-0.08</text>
<text transform="translate(1222.94,558.05) scale(1,1.06)" font-size="24.2" font-weight="bold" fill="#fff">0.52</text>
<text transform="translate(1313.46,558.05) scale(1,1.06)" font-size="24.2" font-weight="bold" fill="#fff">0.51</text>
<text transform="translate(1420.68,558.05) scale(1,1.06)" font-size="24.2" font-weight="bold" fill="#fff">1</text>
<text transform="translate(1501.61,558.05) scale(1,1.06)" font-size="24.2" font-weight="bold" fill="#fff">0.9</text>
<text transform="translate(1585.65,558.05) scale(1,1.06)" font-size="24.2" font-weight="bold" fill="#fff">0.97</text>
<text transform="translate(1676.14,558.05) scale(1,1.06)" font-size="24.2" font-weight="bold" fill="#fff">0.95</text>
<text transform="translate(1041.72,652.19) scale(1,1.06)" font-size="24.2" font-weight="normal" fill="#fff">0.12</text>
<text transform="translate(1128.22,652.19) scale(1,1.06)" font-size="24.2" font-weight="normal" fill="#fff">-0.26</text>
<text transform="translate(1229.23,652.19) scale(1,1.06)" font-size="24.2" font-weight="bold" fill="#fff">0.4</text>
<text transform="translate(1313.19,652.19) scale(1,1.06)" font-size="24.2" font-weight="bold" fill="#fff">0.54</text>
<text transform="translate(1410.94,652.19) scale(1,1.06)" font-size="24.2" font-weight="bold" fill="#fff">0.9</text>
<text transform="translate(1511.35,652.19) scale(1,1.06)" font-size="24.2" font-weight="bold" fill="#fff">1</text>
<text transform="translate(1585.65,652.19) scale(1,1.06)" font-size="24.2" font-weight="bold" fill="#fff">0.97</text>
<text transform="translate(1676.17,652.19) scale(1,1.06)" font-size="24.2" font-weight="bold" fill="#fff">0.98</text>
<text transform="translate(1037.58,746.33) scale(1,1.06)" font-size="24.2" font-weight="normal" fill="#fff">-0.09</text>
<text transform="translate(1128.31,746.33) scale(1,1.06)" font-size="24.2" font-weight="normal" fill="#fff">-0.17</text>
<text transform="translate(1222.79,746.33) scale(1,1.06)" font-size="24.2" font-weight="bold" fill="#fff">0.45</text>
<text transform="translate(1313.19,746.33) scale(1,1.06)" font-size="24.2" font-weight="bold" fill="#fff">0.54</text>
<text transform="translate(1404.31,746.33) scale(1,1.06)" font-size="24.2" font-weight="bold" fill="#fff">0.97</text>
<text transform="translate(1494.98,746.33) scale(1,1.06)" font-size="24.2" font-weight="bold" fill="#fff">0.97</text>
<text transform="translate(1602.02,746.33) scale(1,1.06)" font-size="24.2" font-weight="bold" fill="#fff">1</text>
<text transform="translate(1676.23,746.33) scale(1,1.06)" font-size="24.2" font-weight="bold" fill="#fff">0.99</text>
<text transform="translate(1037.37,840.47) scale(1,1.06)" font-size="24.2" font-weight="normal" fill="#fff">-0.04</text>
<text transform="translate(1134.93,840.47) scale(1,1.06)" font-size="24.2" font-weight="normal" fill="#fff">-0.3</text>
<text transform="translate(1222.88,840.47) scale(1,1.06)" font-size="24.2" font-weight="bold" fill="#fff">0.46</text>
<text transform="translate(1313.55,840.47) scale(1,1.06)" font-size="24.2" font-weight="bold" fill="#fff">0.56</text>
<text transform="translate(1404.13,840.47) scale(1,1.06)" font-size="24.2" font-weight="bold" fill="#fff">0.95</text>
<text transform="translate(1494.83,840.47) scale(1,1.06)" font-size="24.2" font-weight="bold" fill="#fff">0.98</text>
<text transform="translate(1585.56,840.47) scale(1,1.06)" font-size="24.2" font-weight="bold" fill="#fff">0.99</text>
<text transform="translate(1692.69,840.47) scale(1,1.06)" font-size="24.2" font-weight="bold" fill="#fff">1</text>
<text transform="translate(1081.17,108.53) rotate(-90) scale(1.02,1.055)" font-size="42.0" fill="#953b3b">LWR</text>
<text transform="translate(1171.76,107.05) rotate(-90) scale(0.975,1.05)" font-size="42.0" fill="#953b3b">CS</text>
<text transform="translate(1262.60,107.30) rotate(-90) scale(0.945,1.055)" font-size="42.0" fill="#953b3b">wt</text>
<text transform="translate(1353.10,108.38) rotate(-90) scale(0.975,1.05)" font-size="42.0" fill="#953b3b">DS</text>
<text transform="translate(1443.85,105.21) rotate(-90) scale(1.0,1.055)" font-size="42.0" fill="#953b3b">W</text>
<text transform="translate(1534.52,108.47) rotate(-90) scale(1.0,1.055)" font-size="42.0" fill="#953b3b">L</text>
<text transform="translate(1625.19,105.11) rotate(-90) scale(1.0,1.055)" font-size="42.0" fill="#953b3b">A</text>
<text transform="translate(1715.86,108.47) rotate(-90) scale(1.0,1.055)" font-size="42.0" fill="#953b3b">P</text>
<text transform="translate(909.24,185.00) scale(1.02,1.055)" font-size="42.0" fill="#953b3b">LWR</text>
<text transform="translate(946.48,279.65) scale(0.935,1.09)" font-size="42.0" fill="#953b3b">CS</text>
<text transform="translate(961.43,373.87) scale(0.93,1.055)" font-size="42.0" fill="#953b3b">wt</text>
<text transform="translate(946.20,467.93) scale(0.94,1.09)" font-size="42.0" fill="#953b3b">DS</text>
<text transform="translate(959.72,561.56) scale(1.0,1.055)" font-size="42.0" fill="#953b3b">W</text>
<text transform="translate(977.25,655.70) scale(1.0,1.055)" font-size="42.0" fill="#953b3b">L</text>
<text transform="translate(971.27,749.84) scale(1.0,1.055)" font-size="42.0" fill="#953b3b">A</text>
<text transform="translate(973.37,843.98) scale(1.0,1.055)" font-size="42.0" fill="#953b3b">P</text>
<rect x="1019.80" y="123.60" width="90.67" height="94.14" fill="none" stroke="#000" stroke-width="3.5"/>
<rect x="1110.47" y="217.74" width="90.67" height="94.14" fill="none" stroke="#000" stroke-width="3.5"/>
<rect x="1201.14" y="311.88" width="90.67" height="94.14" fill="none" stroke="#000" stroke-width="3.5"/>
<rect x="1291.81" y="406.02" width="453.35" height="470.70" fill="none" stroke="#000" stroke-width="3.5"/>
<rect x="1019.5" y="891.0" width="726.2" height="25.8" fill="url(#gh)" stroke="#1a1a1a" stroke-width="1.4"/>
<line x1="1019.5" y1="916.8" x2="1745.7" y2="916.8" stroke="#111" stroke-width="2"/>
<line x1="1019.50" y1="916.8" x2="1019.50" y2="920.8" stroke="#111" stroke-width="2"/>
<text x="1017.20" y="964.32" text-anchor="middle" font-size="40" fill="#111">-1</text>
<line x1="1092.12" y1="916.8" x2="1092.12" y2="920.8" stroke="#111" stroke-width="2"/>
<text x="1092.12" y="964.32" text-anchor="middle" font-size="40" fill="#111">-0.8</text>
<line x1="1164.74" y1="916.8" x2="1164.74" y2="920.8" stroke="#111" stroke-width="2"/>
<text x="1164.74" y="964.32" text-anchor="middle" font-size="40" fill="#111">-0.6</text>
<line x1="1237.36" y1="916.8" x2="1237.36" y2="920.8" stroke="#111" stroke-width="2"/>
<text x="1237.36" y="964.32" text-anchor="middle" font-size="40" fill="#111">-0.4</text>
<line x1="1309.98" y1="916.8" x2="1309.98" y2="920.8" stroke="#111" stroke-width="2"/>
<text x="1309.98" y="964.32" text-anchor="middle" font-size="40" fill="#111">-0.2</text>
<line x1="1382.60" y1="916.8" x2="1382.60" y2="920.8" stroke="#111" stroke-width="2"/>
<text x="1382.60" y="964.32" text-anchor="middle" font-size="40" fill="#111">0</text>
<line x1="1455.22" y1="916.8" x2="1455.22" y2="920.8" stroke="#111" stroke-width="2"/>
<text x="1455.22" y="964.32" text-anchor="middle" font-size="40" fill="#111">0.2</text>
<line x1="1527.84" y1="916.8" x2="1527.84" y2="920.8" stroke="#111" stroke-width="2"/>
<text x="1527.84" y="964.32" text-anchor="middle" font-size="40" fill="#111">0.4</text>
<line x1="1600.46" y1="916.8" x2="1600.46" y2="920.8" stroke="#111" stroke-width="2"/>
<text x="1600.46" y="964.32" text-anchor="middle" font-size="40" fill="#111">0.6</text>
<line x1="1673.08" y1="916.8" x2="1673.08" y2="920.8" stroke="#111" stroke-width="2"/>
<text x="1673.08" y="964.32" text-anchor="middle" font-size="40" fill="#111">0.8</text>
<line x1="1745.70" y1="916.8" x2="1745.70" y2="920.8" stroke="#111" stroke-width="2"/>
<text x="1743.40" y="964.32" text-anchor="middle" font-size="40" fill="#111">1</text>
<text x="122" y="76.3" font-size="46.5" fill="#111">b<tspan dx="1.5">)</tspan></text>
<text x="65" y="245" font-size="46" fill="#111">a)</text>
<text x="974.3" y="88.8" font-size="46.5" fill="#111">c<tspan dx="1.5">)</tspan></text>
<line x1="5" y1="5" x2="902" y2="1002" stroke="#7cb0de" stroke-width="2.3"/>
<line x1="902" y1="4" x2="904.5" y2="1004" stroke="#a9cbea" stroke-width="3.5"/>
<rect x="4" y="3.7" width="1754.5" height="1000.8" fill="none" stroke="#4a8fce" stroke-width="4"/>
</svg>
</body></html>
